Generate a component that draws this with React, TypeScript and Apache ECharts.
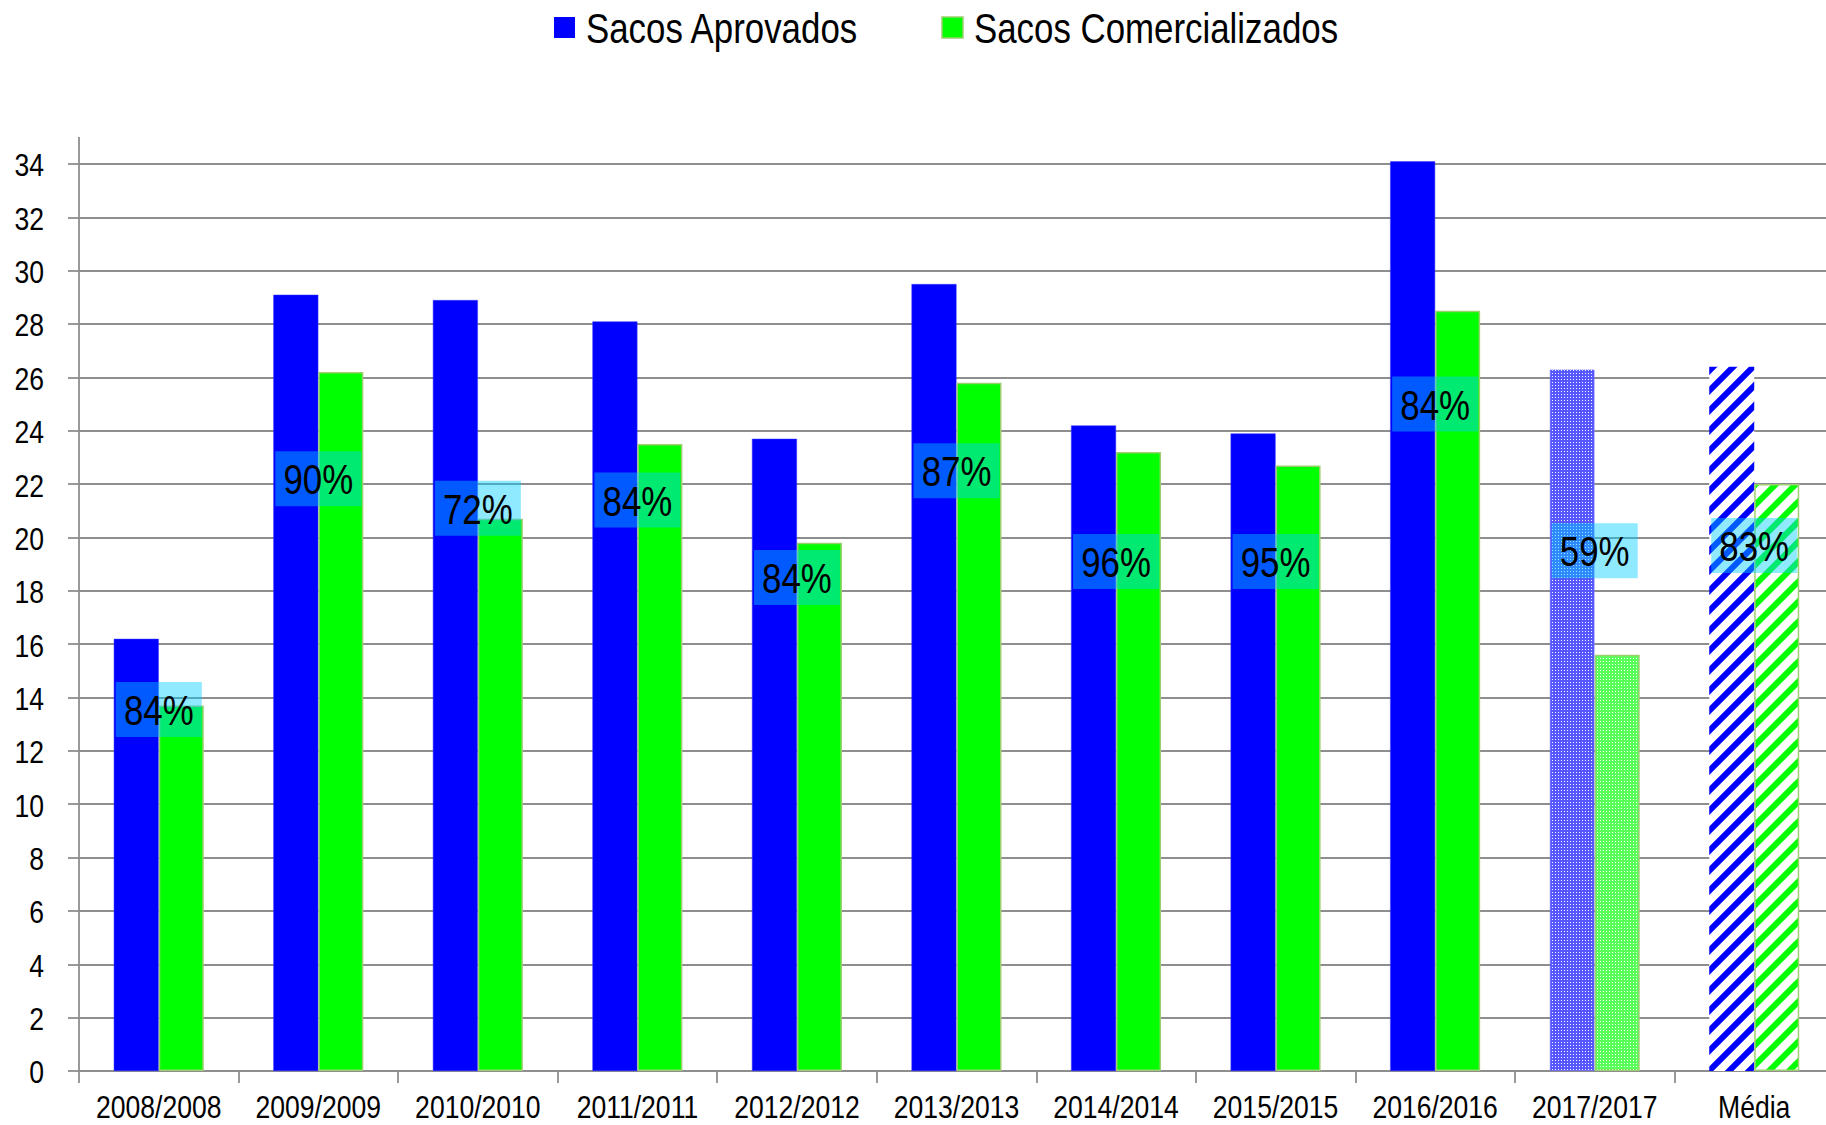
import React, { useEffect, useRef } from "react";
import * as echarts from "echarts";

const categories = [
  "2008/2008", "2009/2009", "2010/2010", "2011/2011", "2012/2012", "2013/2013",
  "2014/2014", "2015/2015", "2016/2016", "2017/2017", "Média",
];
const aprovados = [16.2, 29.1, 28.9, 28.1, 23.7, 29.5, 24.2, 23.9, 34.1, 26.3, 26.4];
const comercializados = [13.7, 26.2, 20.7, 23.5, 19.8, 25.8, 23.2, 22.7, 28.5, 15.6, 22.0];
const percentLabels = ["84%", "90%", "72%", "84%", "84%", "87%", "96%", "95%", "84%", "59%", "83%"];
const labelY = [13.55, 22.2, 21.1, 21.4, 18.5, 22.5, 19.1, 19.1, 25.0, 19.5, 19.7];
const yTicks = [0, 2, 4, 6, 8, 10, 12, 14, 16, 18, 20, 22, 24, 26, 28, 30, 32, 34];
const seriesNames = ["Sacos Aprovados", "Sacos Comercializados"];

const FONT = "'Liberation Sans', Arial, sans-serif";
const NARROW = 0.83;
const BLUE = "#0000ff";
const GREEN = "#00ff00";
const GREEN_BORDER = "#9bcf6f";
const GRID = "#8e8e8e";

function makeCanvas(w: number, h: number, draw: (ctx: CanvasRenderingContext2D) => void) {
  const c = document.createElement("canvas");
  c.width = w;
  c.height = h;
  const ctx = c.getContext("2d")!;
  draw(ctx);
  return c;
}

function dotPattern(base: string) {
  const c = makeCanvas(3, 3, (ctx) => {
    ctx.fillStyle = base;
    ctx.fillRect(0, 0, 3, 3);
    ctx.fillStyle = "#ffffff";
    ctx.fillRect(1, 1, 1, 1);
  });
  return { image: c, repeat: "repeat", imageWidth: 3, imageHeight: 3 } as any;
}

function stripePattern(color: string) {
  const s = 20;
  const c = makeCanvas(s, s, (ctx) => {
    ctx.fillStyle = "#ffffff";
    ctx.fillRect(0, 0, s, s);
    ctx.strokeStyle = color;
    ctx.lineWidth = 6;
    for (let k = -1; k <= 1; k++) {
      ctx.beginPath();
      ctx.moveTo(-s + k * s, s + s);
      ctx.lineTo(s + s + k * s, -s);
      ctx.stroke();
    }
  });
  return { image: c, repeat: "repeat", imageWidth: s, imageHeight: s } as any;
}

function narrowText(text: string, x: number, y: number, size: number, align: string) {
  return {
    type: "text",
    x,
    y,
    scaleX: NARROW,
    silent: true,
    z: 20,
    style: {
      text,
      fill: "#000",
      font: `${size}px ${FONT}`,
      align,
      verticalAlign: "middle",
    },
  };
}

export default function App() {
  const ref = useRef<HTMLDivElement>(null);
  useEffect(() => {
    if (!ref.current) return;
    const chart = echarts.init(ref.current, null, { renderer: "svg" });
    const n = categories.length;
    const blueData = aprovados.map((v, i) => {
      if (i === n - 2)
        return { value: v, itemStyle: { color: dotPattern("#5757ff"), borderColor: "#6a6aff", borderWidth: 1, borderType: "dotted" } };
      if (i === n - 1) return { value: v, itemStyle: { color: stripePattern(BLUE), borderWidth: 0 } };
      return v;
    });
    const greenData = comercializados.map((v, i) => {
      if (i === n - 2) return { value: v, itemStyle: { color: dotPattern("#58ff58") } };
      if (i === n - 1) return { value: v, itemStyle: { color: stripePattern(GREEN) } };
      return v;
    });
    chart.setOption({
      animation: false,
      backgroundColor: "#ffffff",
      grid: { left: 79, right: 0, top: 164, bottom: 54, containLabel: false },
      xAxis: {
        type: "category",
        data: categories,
        axisLine: { show: true, lineStyle: { color: GRID, width: 1.8 } },
        axisTick: { show: true, length: 12, lineStyle: { color: GRID, width: 1.8 } },
        axisLabel: { show: false },
      },
      yAxis: {
        type: "value",
        min: 0,
        max: 34,
        interval: 2,
        axisLine: { show: true, lineStyle: { color: GRID, width: 1.8 } },
        axisTick: { show: true, length: 11, lineStyle: { color: GRID, width: 1.8 } },
        axisLabel: { show: false },
        splitLine: { show: true, lineStyle: { color: GRID, width: 1.8 } },
      },
      series: [
        {
          name: seriesNames[0],
          type: "bar",
          data: blueData,
          barWidth: 45,
          barGap: "0%",
          clip: false,
          itemStyle: { color: BLUE, borderColor: "#3c3cff", borderWidth: 0.5 },
        },
        {
          name: seriesNames[1],
          type: "bar",
          data: greenData,
          barWidth: 45,
          barGap: "0%",
          clip: false,
          itemStyle: { color: GREEN, borderColor: GREEN_BORDER, borderWidth: 1.5 },
        },
      ],
    });

    const elements: any[] = [];
    elements.push({
      type: "line",
      shape: { x1: 79, y1: 137, x2: 79, y2: 164 },
      style: { stroke: GRID, lineWidth: 1.8 },
      silent: true,
    });
    const legendIcons = [554, 942];
    const legendColors = [BLUE, GREEN];
    seriesNames.forEach((name, i) => {
      elements.push({
        type: "rect",
        shape: { x: legendIcons[i], y: 17, width: 21, height: 21 },
        style: { fill: legendColors[i], stroke: i === 1 ? GREEN_BORDER : null, lineWidth: 1.5 },
        silent: true,
      });
      elements.push(narrowText(name, legendIcons[i] + 32, 28, 42, "left"));
    });
    yTicks.forEach((v) => {
      const py = chart.convertToPixel({ yAxisIndex: 0 }, v) as number;
      elements.push(narrowText(String(v), 44, py + 1, 32, "right"));
    });
    const baseY = chart.convertToPixel({ yAxisIndex: 0 }, 0) as number;
    categories.forEach((c, i) => {
      const px = chart.convertToPixel({ xAxisIndex: 0 }, i) as number;
      elements.push(narrowText(c, px, baseY + 36, 32, "center"));
    });
    percentLabels.forEach((t, i) => {
      const px = chart.convertToPixel({ xAxisIndex: 0 }, i) as number;
      const py = chart.convertToPixel({ yAxisIndex: 0 }, labelY[i]) as number;
      elements.push({
        type: "rect",
        shape: { x: px - 43, y: py - 27.5, width: 86, height: 55 },
        style: { fill: "rgba(0,204,255,0.44)" },
        silent: true,
        z: 15,
      });
      elements.push(narrowText(t, px, py + 1, 42, "center"));
    });
    chart.setOption({ graphic: elements });
    return () => chart.dispose();
  }, []);
  return (
    <div
      ref={ref}
      style={{ position: "fixed", left: 0, top: 0, width: 1834, height: 1125, background: "#fff" }}
    />
  );
}
